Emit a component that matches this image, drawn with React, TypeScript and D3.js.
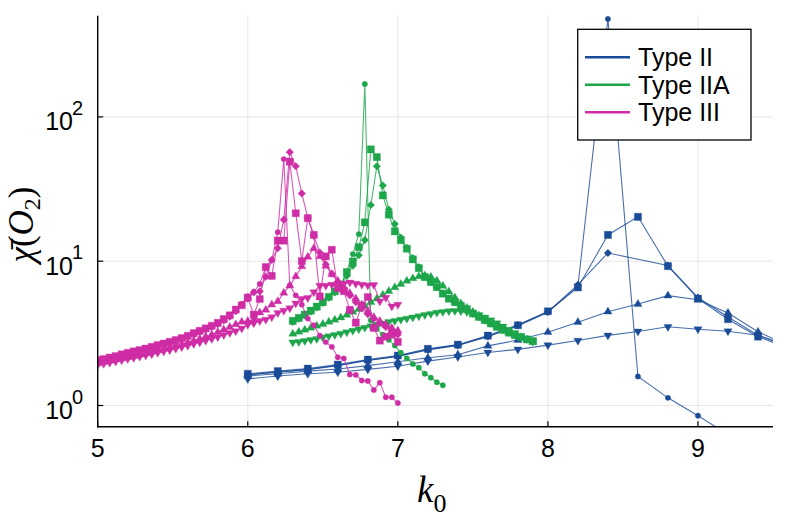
import React from 'react';
import * as d3 from 'd3';

const W = 789;
const H = 526;

const xTicks = [5, 6, 7, 8, 9];
const yTicks = [1, 10, 100];
const yTickExp = ['0', '1', '2'];
const legendLabels = ['Type II', 'Type IIA', 'Type III'];
const typeColors = ['#1a4b97', '#1ea64b', '#cf2da6'];
const markerShapes = ['circle', 'square', 'diamond', 'utri', 'dtri'];

// ---- Type II ----
const xII = [6.0, 6.2, 6.4, 6.6, 6.8, 7.0, 7.2, 7.4, 7.6, 7.8, 8.0, 8.2, 8.4, 8.6, 8.8, 9.0, 9.2, 9.4, 9.6];
const IIcircle = [1.64, 1.71, 1.78, 1.90, 2.06, 2.20, 2.45, 2.62, 3.00, 3.56, 4.42, 6.70, 477, 1.59, 1.13, 0.85, 0.63];
const IIsquare = [1.66, 1.73, 1.80, 1.92, 2.08, 2.22, 2.47, 2.64, 3.05, 3.60, 4.50, 6.58, 15.2, 20.3, 9.24, 5.50, 3.96, 3.00, 2.50];
const IIdiamond = [1.63, 1.70, 1.77, 1.89, 2.05, 2.19, 2.43, 2.61, 3.02, 3.62, 4.45, 6.87, 11.4, null, 9.33, 5.60, 4.10, 3.07, 2.55];
const IIup = [1.60, 1.66, 1.73, 1.79, 1.89, 2.01, 2.14, 2.25, 2.59, 2.84, 3.22, 3.78, 4.47, 5.05, 5.77, 5.41, 4.38, 3.24, 2.62];
const IIdown = [1.53, 1.60, 1.66, 1.70, 1.78, 1.87, 2.03, 2.17, 2.33, 2.45, 2.62, 2.82, 3.06, 3.26, 3.51, 3.38, 3.27, 3.07, 2.62];

// ---- Type IIA ----
const xIIA = [6.30, 6.34, 6.38, 6.42, 6.46, 6.50, 6.54, 6.58, 6.62, 6.66, 6.70, 6.74, 6.78, 6.82, 6.86, 6.90, 6.94, 6.98, 7.02, 7.06,
  7.10, 7.14, 7.18, 7.22, 7.26, 7.30, 7.34, 7.38, 7.42, 7.46, 7.50, 7.54, 7.58, 7.62, 7.66, 7.70, 7.74, 7.78, 7.82, 7.86, 7.90];
const IIAcircle = [3.80, 4.00, 4.22, 4.48, 4.78, 5.15, 5.60, 6.10, 6.80, 8.50, 11.2, 15.4, 169, 3.9, 3.4, 3.1, 2.85, 2.6, 2.32, 2.12,
  1.94, 1.83, 1.66, 1.56, 1.45, 1.38];
const IIAsquare = [3.86, 4.05, 4.27, 4.54, 4.84, 5.21, 5.67, 6.18, 6.87, 8.40, 9.95, 12.5, 18.6, 59.6, 52.7, 28.6, 21.0, 16.1, 14.0, 12.2,
  10.3, 8.95, 7.76, 7.17, 6.62, 5.96, 5.50, 5.21, 4.90, 4.65, 4.34, 4.11, 3.90, 3.70, 3.51, 3.34, 3.20, 3.07, 2.98, 2.87, 2.79];
const IIAdiamond = [3.80, 3.99, 4.21, 4.47, 4.78, 5.14, 5.58, 6.08, 6.75, 7.90, 9.30, 11.0, 14.0, 24.5, 45.5, 33.5, 22.8, 18.1, 14.6, 12.4,
  10.5, 9.10, 7.90, 7.20, 6.60, 6.00, 5.52, 5.18, 4.88, 4.62, 4.33, 4.10, 3.89, 3.69, 3.50, 3.34, 3.20, 3.07, 2.97, 2.87, 2.78];
const IIAup = [3.14, 3.24, 3.35, 3.45, 3.56, 3.66, 3.80, 3.93, 4.07, 4.24, 4.45, 4.65, 4.90, 5.20, 5.50, 5.85, 6.20, 6.60, 6.95, 7.30,
  7.60, 7.85, 7.95, 7.80, 7.35, 6.75, 6.15, 5.60, 5.10, 4.75, 4.45, 4.20, 3.97, 3.76, 3.56, 3.38, 3.22, 3.08, 2.97, 2.86, 2.76];
const IIAdown = [2.74, 2.76, 2.80, 2.85, 2.90, 2.96, 3.02, 3.08, 3.15, 3.22, 3.30, 3.38, 3.46, 3.55, 3.63, 3.71, 3.79, 3.86, 3.93, 4.00,
  4.08, 4.16, 4.24, 4.32, 4.40, 4.46, 4.50, 4.52, 4.50, 4.45, 4.38, 4.25, 4.08, 3.90, 3.72, 3.53, 3.35, 3.18, 3.03, 2.90, 2.78];

// ---- Type III ----
const xIII = [5.00, 5.04, 5.08, 5.12, 5.16, 5.20, 5.24, 5.28, 5.32, 5.36, 5.40, 5.44, 5.48, 5.52, 5.56, 5.60, 5.64, 5.68, 5.72, 5.76,
  5.80, 5.84, 5.88, 5.92, 5.96, 6.00, 6.04, 6.08, 6.12, 6.16, 6.20, 6.24, 6.28, 6.32, 6.36, 6.40, 6.44, 6.48, 6.52, 6.56,
  6.60, 6.64, 6.68, 6.72, 6.76, 6.80, 6.84, 6.88, 6.92, 6.96, 7.00];
const IIIcircle = [2.04, 2.08, 2.13, 2.18, 2.24, 2.30, 2.35, 2.40, 2.46, 2.53, 2.60, 2.67, 2.74, 2.82, 2.91, 3.02, 3.14, 3.26, 3.38, 3.53,
  3.70, 3.92, 4.17, 4.55, 5.05, 5.71, 6.12, 6.95, 9.10, 10.2, 15.9, 51.0, 6.80, 5.80, 5.00, 4.00, 3.60, 3.05, 2.75, 2.55,
  2.16, 2.12, 1.64, 1.63, 1.49, 1.48, 1.28, 1.44, 1.14, 1.14, 1.04];
const IIIsquare = [2.06, 2.10, 2.15, 2.20, 2.26, 2.32, 2.37, 2.42, 2.48, 2.55, 2.62, 2.69, 2.76, 2.84, 2.93, 3.04, 3.17, 3.29, 3.42, 3.57,
  3.74, 3.97, 4.22, 4.62, 4.95, 5.60, 4.26, 5.47, 9.10, 7.90, 13.9, 13.9, 49.0, 21.5, 10.0, 19.9, 15.2, 5.70, 10.8, 12.0,
  6.50, 6.20, 4.60, 3.75, 4.93, 5.65, 3.45, 2.82, 3.00, 3.10, 2.76];
const IIIdiamond = [2.02, 2.06, 2.11, 2.16, 2.22, 2.28, 2.33, 2.38, 2.44, 2.51, 2.58, 2.65, 2.72, 2.80, 2.89, 2.99, 3.11, 3.23, 3.35, 3.50,
  3.66, 3.88, 4.12, 4.50, 4.98, 5.50, 6.08, 6.18, 7.80, 10.2, 12.3, 19.4, 57.0, 45.5, 29.5, 20.0, 15.0, 11.5, 9.50, 8.20,
  7.20, 6.50, 5.80, 5.20, 4.70, 4.30, 4.00, 3.70, 3.50, 3.30, 3.10];
const IIIup = [1.96, 2.00, 2.04, 2.08, 2.12, 2.16, 2.20, 2.25, 2.30, 2.35, 2.41, 2.47, 2.53, 2.60, 2.66, 2.74, 2.82, 2.90, 3.00, 3.10,
  3.22, 3.36, 3.50, 3.65, 3.80, 3.85, 3.94, 4.40, 4.60, 5.00, 5.27, 6.03, 6.77, 7.85, 9.20, 10.7, 12.3, 10.8, 9.30, 8.10,
  7.30, 6.60, 6.00, 5.50, 5.00, 4.50, 4.10, 3.85, 3.65, 3.45, 3.30];
const IIIdown = [1.92, 1.95, 1.98, 2.02, 2.06, 2.10, 2.14, 2.18, 2.22, 2.27, 2.32, 2.37, 2.42, 2.48, 2.54, 2.60, 2.67, 2.74, 2.82, 2.90,
  2.98, 3.08, 3.18, 3.28, 3.42, 3.63, 3.72, 3.85, 3.94, 4.10, 4.38, 4.55, 4.72, 5.10, 5.47, 5.56, 6.10, 6.77, 6.77, 6.88,
  6.77, 6.99, 7.13, 6.99, 6.88, 6.80, 6.85, 5.27, 5.59, 4.87, 5.00];

const groups = [
  { x: xII, series: [IIcircle, IIsquare, IIdiamond, IIup, IIdown] },
  { x: xIIA, series: [IIAcircle, IIAsquare, IIAdiamond, IIAup, IIAdown] },
  { x: xIII, series: [IIIcircle, IIIsquare, IIIdiamond, IIIup, IIIdown] },
];

const left = 97.7, right = 773, top = 15.7, bottom = 426.7;
const xScale = d3.scaleLinear().domain([5, 9.5]).range([left, right]);
const yScale = d3.scaleLog().domain([0.713, 502.7]).range([bottom, top]);

function markerPath(shape: string, x: number, y: number): string {
  switch (shape) {
    case 'circle': {
      const r = 2.7;
      return `M${x - r},${y}a${r},${r} 0 1,0 ${2 * r},0a${r},${r} 0 1,0 ${-2 * r},0Z`;
    }
    case 'square': {
      const h = 3.6;
      return `M${x - h},${y - h}H${x + h}V${y + h}H${x - h}Z`;
    }
    case 'diamond': {
      const d = 3.8;
      return `M${x},${y - d}L${x + d},${y}L${x},${y + d}L${x - d},${y}Z`;
    }
    case 'utri': {
      const w = 4.1;
      return `M${x},${y - 4.6}L${x + w},${y + 2.4}L${x - w},${y + 2.4}Z`;
    }
    default: {
      const w = 4.1;
      return `M${x},${y + 4.6}L${x + w},${y - 2.4}L${x - w},${y - 2.4}Z`;
    }
  }
}

export default function App() {
  const line = d3.line<[number, number]>().x(d => xScale(d[0])).y(d => yScale(d[1]));
  const sans = '"Liberation Sans", Arial, sans-serif';
  const serif = '"Liberation Serif", "DejaVu Serif", serif';

  const legendX = 577.7, legendY = 29.3, legendW = 173.3, legendH = 110.7;
  const legendRows = [57.3, 84.7, 112.3];

  return (
    <svg width={W} height={H} viewBox={`0 0 ${W} ${H}`}
      style={{ position: 'absolute', left: 0, top: 0, background: '#fff' }}>
      <defs>
        <clipPath id="plotclip">
          <rect x={left} y={top} width={right - left} height={bottom - top} />
        </clipPath>
      </defs>
      <rect x={0} y={0} width={W} height={H} fill="#fff" />
      {/* grid */}
      <g stroke="#e6e6e6" strokeWidth={1}>
        {xTicks.map(t => (
          <line key={'gx' + t} x1={xScale(t)} x2={xScale(t)} y1={top} y2={bottom} />
        ))}
        {yTicks.map(t => (
          <line key={'gy' + t} x1={left} x2={right} y1={yScale(t)} y2={yScale(t)} />
        ))}
      </g>
      {/* series */}
      <g clipPath="url(#plotclip)">
        {groups.map((g, gi) => (
          <g key={'g' + gi}>
            {g.series.map((s, si) => {
              const pts: [number, number][] = [];
              s.forEach((v, i) => { if (v !== null && v !== undefined) pts.push([g.x[i], v as number]); });
              const shape = markerShapes[si];
              return (
                <g key={'s' + si}>
                  <path d={line(pts) || ''} fill="none" stroke={typeColors[gi]} strokeWidth={1.1} strokeOpacity={0.8} />
                  <path d={pts.map(p => markerPath(shape, xScale(p[0]), yScale(p[1]))).join('')}
                    fill={typeColors[gi]} stroke={typeColors[gi]} strokeOpacity={0.3} strokeWidth={1} />
                </g>
              );
            })}
          </g>
        ))}
      </g>
      {/* axes */}
      <g stroke="#000" strokeWidth={1.4} fill="none">
        <line x1={left} x2={left} y1={top} y2={bottom + 0.7} />
        <line x1={left - 0.7} x2={right} y1={bottom} y2={bottom} />
        {xTicks.map(t => (
          <line key={'tx' + t} x1={xScale(t)} x2={xScale(t)} y1={bottom} y2={bottom - 5.5} strokeWidth={1.2} />
        ))}
        {yTicks.map(t => (
          <line key={'ty' + t} x1={left} x2={left + 5.5} y1={yScale(t)} y2={yScale(t)} strokeWidth={1.2} />
        ))}
      </g>
      {/* tick labels */}
      <g fontFamily={sans} fill="#000">
        {xTicks.map(t => (
          <text key={'lx' + t} x={xScale(t)} y={457} fontSize={25} textAnchor="middle">{t}</text>
        ))}
        {yTicks.map((t, i) => (
          <g key={'ly' + t}>
            <text x={73} y={yScale(t) + 13.3} fontSize={25} textAnchor="end">10</text>
            <text x={72} y={yScale(t) - 1.8} fontSize={20} textAnchor="start">{yTickExp[i]}</text>
          </g>
        ))}
      </g>
      {/* axis labels */}
      <text x={417} y={501.7} fontFamily={serif} fontSize={37} fill="#000">
        <tspan fontStyle="italic">k</tspan>
        <tspan fontSize={26} dy={10}>0</tspan>
      </text>
      <text transform="translate(33,224.5) rotate(-90)" fontFamily={serif} fontSize={35} fill="#000" textAnchor="middle">
        <tspan fontStyle="italic">{'\u03C7\u0304'}</tspan>
        <tspan>(</tspan>
        <tspan fontStyle="italic">O</tspan>
        <tspan fontSize={24} dy={7}>2</tspan>
        <tspan dy={-7}>)</tspan>
      </text>
      {/* legend */}
      <rect x={legendX} y={legendY} width={legendW} height={legendH} fill="#fff" stroke="#000" strokeWidth={1.3} />
      {legendLabels.map((lab, i) => (
        <g key={'leg' + i}>
          <line x1={585} x2={630} y1={legendRows[i]} y2={legendRows[i]} stroke={typeColors[i]} strokeWidth={2.5} />
          <text x={638} y={legendRows[i] + 9} fontFamily={sans} fontSize={25} fill="#000">{lab}</text>
        </g>
      ))}
    </svg>
  );
}
